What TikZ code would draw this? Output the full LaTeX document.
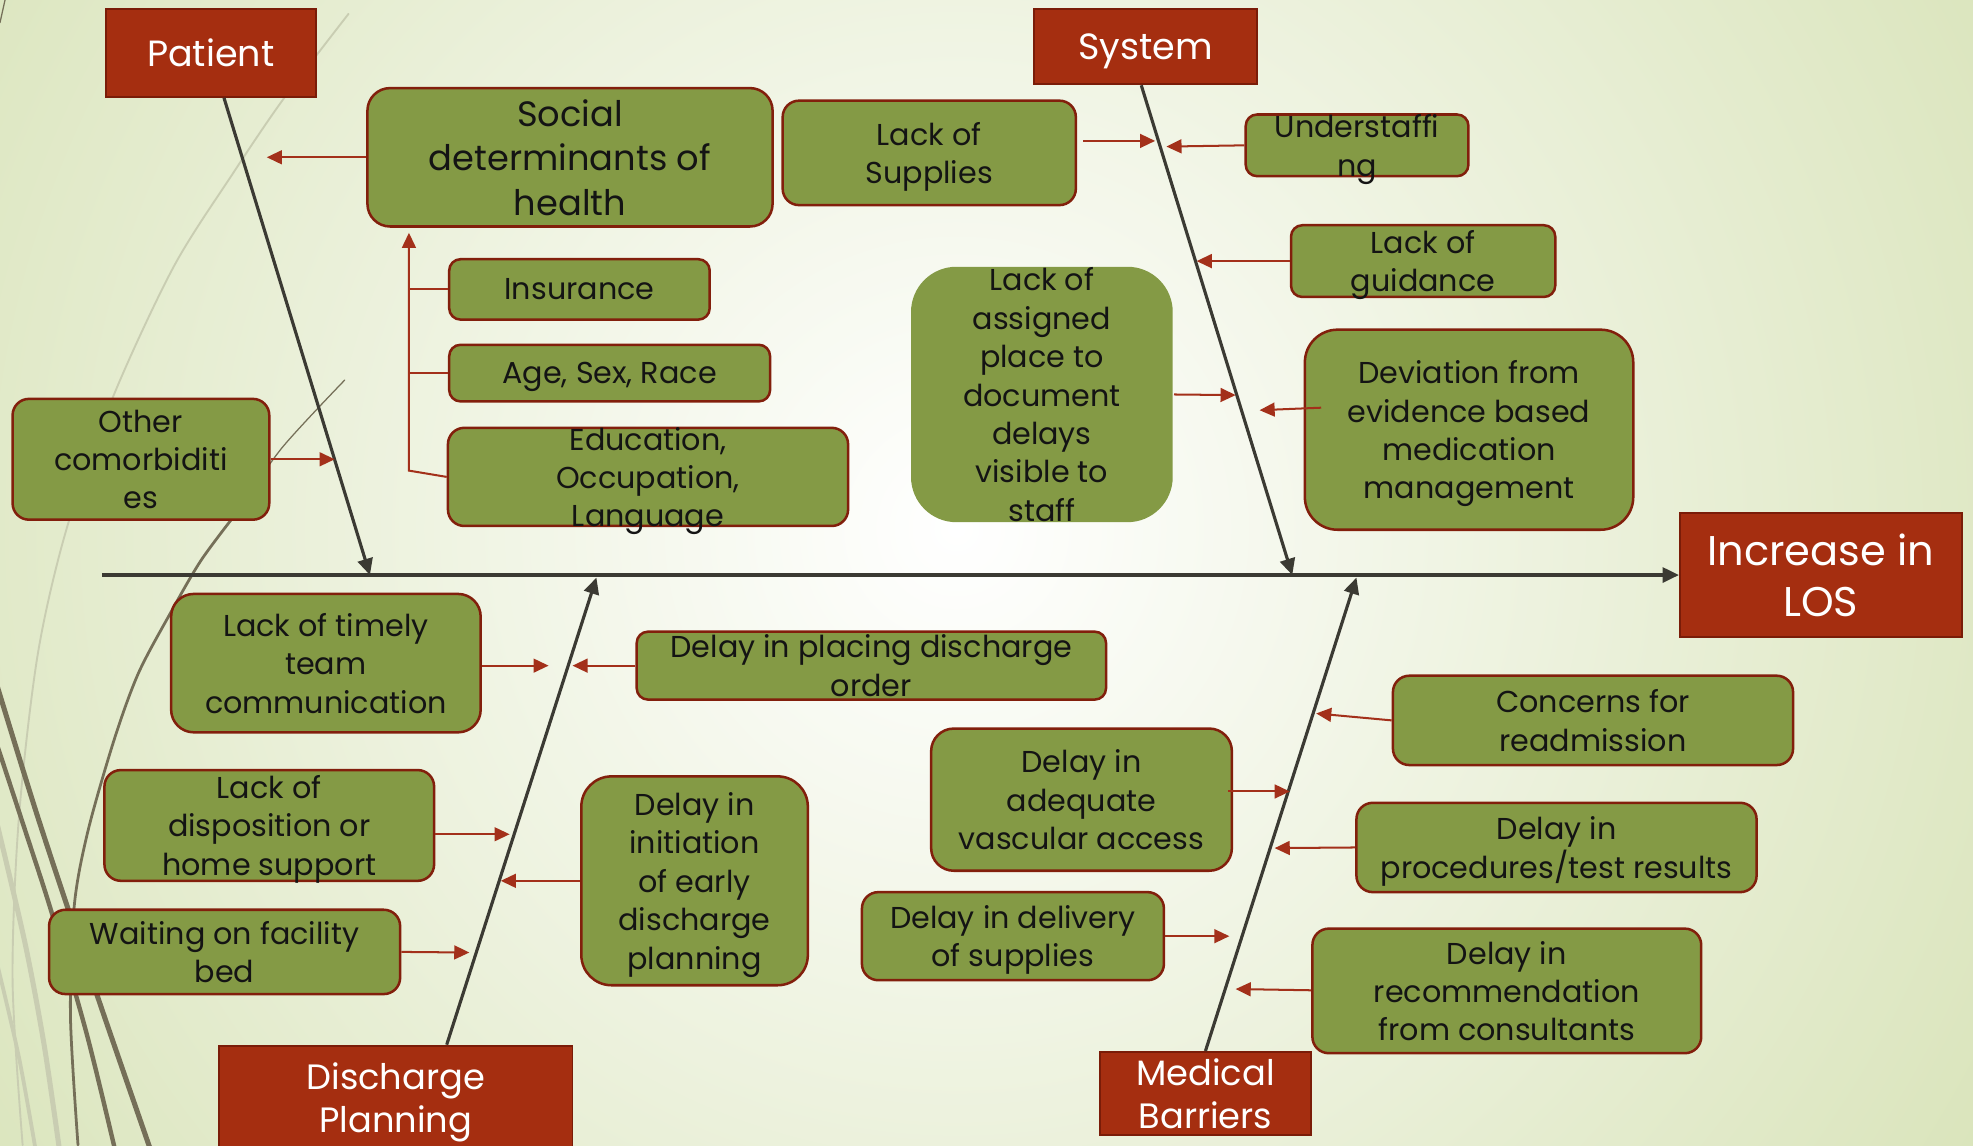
\documentclass[tikz,border=0pt]{standalone}
\usepackage{fontspec}
\setmainfont{Poppins}
\usetikzlibrary{arrows.meta}
\usetikzlibrary{positioning}
\definecolor{hdrRed}{HTML}{A52E10}
\definecolor{hdrEdge}{HTML}{7A1C08}
\definecolor{boxGreen}{HTML}{849A45}
\definecolor{boxEdge}{HTML}{821F0C}
\definecolor{arrowRed}{HTML}{A3301A}
\definecolor{boneGray}{HTML}{3B3A33}
\definecolor{textDark}{HTML}{141414}
\definecolor{bgGreen}{HTML}{D8E3B8}
\definecolor{wispDark}{HTML}{756F58}
\definecolor{wispLight}{HTML}{C9CDB2}

\begin{document}
\begin{tikzpicture}[x=1pt,y=-1pt]
	\tikzset{hdr/.style = {shape=rectangle, draw=hdrEdge, fill=hdrRed, line width=1.5pt,
			text=white, align=center, inner xsep=0pt, inner ysep=-4pt, text depth=-1pt,
			font=\fontsize{29}{34}\selectfont}}
	\tikzset{gbox/.style = {shape=rectangle, draw=boxEdge, fill=boxGreen, line width=2pt,
			rounded corners=13pt, align=center, inner xsep=4pt, inner ysep=-9pt, text depth=-2pt,
			text=textDark, font=\fontsize{24}{30.5}\selectfont}}
	\tikzset{bone/.style = {-{Triangle[length=13pt,width=12pt]}, draw=boneGray, line width=2.5pt}}
	\tikzset{cause/.style = {-{Triangle[length=12pt,width=11pt]}, draw=arrowRed, line width=1.6pt}}
	\tikzset{causeline/.style = {draw=arrowRed, line width=1.6pt}}
	\tikzset{wisp/.style = {draw=wispDark, line cap=round}}
	
	\useasboundingbox (0,0) rectangle (1568,910);
	
	% background
	\begin{scope}
		\clip (0,0) rectangle (1568,910);
		\shade[inner color=white, outer color=bgGreen] (760,420) circle (1000pt);
		\draw[wisp, draw=wispLight, line width=1.5pt] plot[smooth] coordinates {(277,11) (225,79) (185,138) (138,212) (90,315) (53,420) (30,520) (15,650) (10,780) (18,910)};
		\draw[wisp, line width=1pt] plot[smooth] coordinates {(274,302) (224,356) (190,405)};
		\draw[wisp, line width=2.2pt] plot[smooth] coordinates {(190,405) (160,445) (135,488) (110,535) (91,587) (70,660) (59,720) (56,808) (62,910)};
		\draw[wisp, line width=4pt] plot[smooth] coordinates {(-2,546) (28,643) (55,725) (83,808) (119,912)};
		\draw[wisp, line width=3.5pt] plot[smooth] coordinates {(-2,593) (20,660) (41,725) (69,822) (91,912)};
		\draw[wisp, draw=wispLight, line width=4pt] plot[smooth] coordinates {(-2,656) (20,750) (35,830) (47,912)};
		\draw[wisp, draw=wispLight, line width=3pt] plot[smooth] coordinates {(-2,767) (15,840) (28,912)};
		\draw[wisp, line width=1pt] (0,18) -- (4,0);
	\end{scope}
	
	% headers
	\node[hdr, minimum width=167pt, minimum height=70pt] (patient) at (167.5,42) {Patient};
	\node[hdr, minimum width=177pt, minimum height=60pt] (system) at (910.5,37) {System};
	\node[hdr, minimum width=224pt, minimum height=98pt, font=\fontsize{33}{40}\selectfont] (los) at (1447,457) {Increase in\\LOS};
	\node[hdr, minimum width=281pt, minimum height=82pt, font=\fontsize{28}{34}\selectfont] (dis) at (314.5,872) {Discharge\\Planning};
	\node[hdr, minimum width=168pt, minimum height=66pt, font=\fontsize{28}{34}\selectfont] (med) at (958,869) {Medical\\Barriers};
	
	% causes
	\node[gbox, minimum width=322pt, minimum height=110pt, rounded corners=18pt, text depth=-1pt, font=\fontsize{28}{35.5}\selectfont] (sdh) at (453,125) {Social\\determinants of\\health};
	\node[gbox, minimum width=233pt, minimum height=83pt] (supply) at (738.5,121.5) {Lack of\\Supplies};
	\node[gbox, minimum width=177pt, minimum height=49pt, rounded corners=9pt] (staff) at (1078.5,115.5) {Understaffi\\ng};
	\node[gbox, minimum width=210pt, minimum height=57pt, rounded corners=9pt] (guide) at (1131,207.5) {Lack of\\guidance};
	\node[gbox, draw=none, minimum width=208pt, minimum height=203pt, rounded corners=36pt] (place) at (828,313.5) {Lack of\\assigned\\place to\\document\\delays\\visible to\\staff};
	\node[gbox, minimum width=261pt, minimum height=159pt, rounded corners=26pt] (devi) at (1167.5,341.5) {Deviation from\\evidence based\\medication\\management};
	\node[gbox, minimum width=207pt, minimum height=48pt, rounded corners=9pt] (ins) at (460.5,230) {Insurance};
	\node[gbox, minimum width=255pt, minimum height=45pt, rounded corners=9pt] (asr) at (484.5,296.5) {Age, Sex, Race};
	\node[gbox, minimum width=318pt, minimum height=78pt] (edu) at (515,379) {Education,\\Occupation,\\Language};
	\node[gbox, minimum width=204pt, minimum height=96pt] (como) at (112,365) {Other\\comorbiditi\\es};
	\node[gbox, minimum width=246pt, minimum height=110pt, rounded corners=18pt] (team) at (259,527) {Lack of timely\\team\\communication};
	\node[gbox, minimum width=373pt, minimum height=54pt, rounded corners=9pt] (order) at (692.5,529) {Delay in placing discharge\\order};
	\node[gbox, minimum width=262pt, minimum height=88pt] (dispo) at (214,656) {Lack of\\disposition or\\home support};
	\node[gbox, minimum width=279pt, minimum height=67pt] (bed) at (178.5,756.5) {Waiting on facility\\bed};
	\node[gbox, minimum width=180pt, minimum height=166pt, rounded corners=24pt] (early) at (552,700) {Delay in\\initiation\\of early\\discharge\\planning};
	\node[gbox, minimum width=318pt, minimum height=71pt] (readm) at (1266,572.5) {Concerns for\\readmission};
	\node[gbox, minimum width=239pt, minimum height=113pt, rounded corners=18pt] (vasc) at (859.5,635.5) {Delay in\\adequate\\vascular access};
	\node[gbox, minimum width=318pt, minimum height=71pt] (proc) at (1237,673.5) {Delay in\\procedures/test results};
	\node[gbox, minimum width=240pt, minimum height=70pt] (deliv) at (805,744) {Delay in delivery\\of supplies};
	\node[gbox, minimum width=309pt, minimum height=99pt] (consult) at (1197.5,787.5) {Delay in\\recommendation\\from consultants};
	
	% spine and bones
	\coordinate (tail) at (81,457);
	\coordinate (pj) at (294,457);
	\coordinate (sj) at (1027,457);
	\coordinate (dj) at (474,459);
	\coordinate (mj) at (1078,459);
	\draw[bone] (tail) -- (los.west);
	\draw[bone] ([xshift=10.5pt]patient.south) -- (pj);
	\draw[bone] ([xshift=-3.5pt]system.south) -- (sj);
	\draw[bone] ([xshift=40.5pt]dis.north) -- (dj);
	\draw[bone] (med.north) -- (mj);
	
	% cause arrows
	\coordinate (sdhTip) at (212,125);
	\coordinate (sdhIn) at (325,185);
	\coordinate (sdhFoot) at (325,374);
	\draw[cause] (sdh.west) -- (sdhTip);
	\draw[cause] (edu.west) -- (sdhFoot) -- (sdhIn);
	\draw[causeline] (ins.west) -- (ins.west -| sdhIn);
	\draw[causeline] (asr.west) -- (asr.west -| sdhIn);
	\coordinate (comoTip) at (266,365);
	\draw[cause] (como.east) -- (comoTip);
	\coordinate (supplyTip) at (918,112);
	\draw[cause] ([xshift=5pt,yshift=9.5pt]supply.east) -- (supplyTip);
	\coordinate (staffTip) at (927,116.5);
	\draw[cause] (staff.west) -- (staffTip);
	\coordinate (guideTip) at (951,207.5);
	\draw[cause] (guide.west) -- (guideTip);
	\coordinate (placeTip) at (982,314);
	\draw[cause] (place.east) -- (placeTip);
	\coordinate (deviTip) at (1001,326);
	\draw[cause] ([xshift=14pt,yshift=17.5pt]devi.west) -- (deviTip);
	\coordinate (teamTip) at (436,529);
	\draw[cause] ([yshift=-2pt]team.east) -- (teamTip);
	\coordinate (orderTip) at (455,529);
	\draw[cause] (order.west) -- (orderTip);
	\coordinate (dispoTip) at (405,663);
	\draw[cause] ([yshift=-7pt]dispo.east) -- (dispoTip);
	\coordinate (earlyTip) at (398,700);
	\draw[cause] (early.west) -- (earlyTip);
	\coordinate (bedTip) at (373,757);
	\draw[cause] (bed.east) -- (bedTip);
	\coordinate (readmTip) at (1046,567);
	\draw[cause] (readm.west) -- (readmTip);
	\coordinate (vascTip) at (1025,629);
	\draw[cause] ([xshift=-4pt,yshift=6.5pt]vasc.east) -- (vascTip);
	\coordinate (procTip) at (1013,674);
	\draw[cause] (proc.west) -- (procTip);
	\coordinate (delivTip) at (977,744);
	\draw[cause] (deliv.east) -- (delivTip);
	\coordinate (consultTip) at (982,786);
	\draw[cause] ([yshift=0.5pt]consult.west) -- (consultTip);
\end{tikzpicture}
\end{document}
